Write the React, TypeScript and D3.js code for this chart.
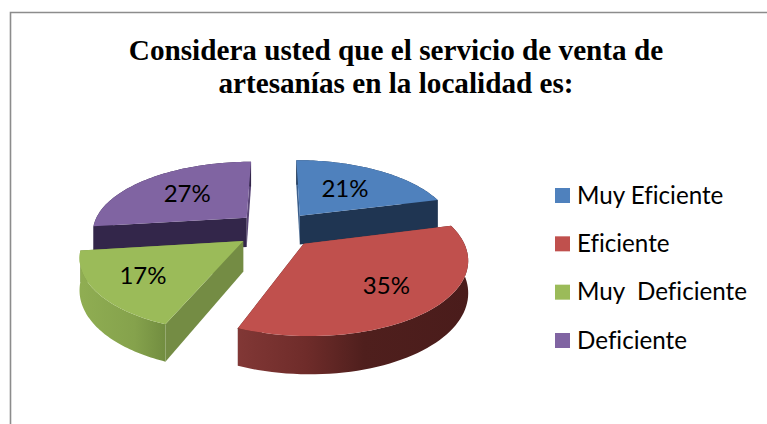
import React from "react";
import * as d3 from "d3";

const categories = ["Muy Eficiente", "Eficiente", "Muy  Deficiente", "Deficiente"];
const values = [21, 35, 17, 27];
const titleLines = ["Considera usted que el servicio de venta de", "artesanías en la localidad es:"];
const topColors = ["#4f81bd", "#c0504d", "#9bbb59", "#8064a2"];
const frontWall = ["#1f3552", "#4d1f1d", "#748c44", "#33264a"];
const paintOrder = [3, 0, 2, 1];
const labelRadii = [0.55, 0.68, 0.71, 0.58];

const W = 767, H = 424;
const cx = 276, cy = 229.5, rx = 155, ry = 70, persp = 0.18, explode = 0.26, depth = 30;

type P = [number, number];
const proj = (X: number, Y: number, z = 0): P => {
  const s = 1 / (1 + persp * Y);
  return [cx + rx * X * s, cy - ry * Y * s + z * s];
};

const pie = d3.pie<number>().sort(null).startAngle(0).endAngle(2 * Math.PI);
const arcs = pie(values);
const line = d3.line<P>();

function geometry(i: number) {
  const a = arcs[i];
  const mid = (a.startAngle + a.endAngle) / 2;
  const ox = explode * Math.sin(mid), oy = explode * Math.cos(mid);
  const pt = (ang: number, r = 1, z = 0) =>
    proj(ox + r * Math.sin(ang), oy + r * Math.cos(ang), z);
  const steps = d3.range(0, 61).map((k) => a.startAngle + ((a.endAngle - a.startAngle) * k) / 60);
  const rimTop = steps.map((t) => pt(t));
  const rimBottom = steps.map((t) => pt(t, 1, depth)).reverse();
  const apex = pt(0, 0);
  const apexLow = pt(0, 0, depth);
  return {
    top: line([apex, ...rimTop])! + "Z",
    wall: line([...rimTop, ...rimBottom])! + "Z",
    startFace: line([apex, pt(a.startAngle), pt(a.startAngle, 1, depth), apexLow])! + "Z",
    endFace: line([apex, pt(a.endAngle), pt(a.endAngle, 1, depth), apexLow])! + "Z",
    label: pt(mid, labelRadii[i]),
  };
}

export default function App() {
  const legendY = d3.scalePoint<string>().domain(categories).range([195.5, 340.5]);
  return (
    <svg width={W} height={H} style={{ position: "absolute", left: 0, top: 0, background: "#fff" }}>
      <defs>
        <linearGradient id="wall0" gradientUnits="userSpaceOnUse" x1="300" x2="440" y1="0" y2="0">
          <stop offset="0" stopColor="#1f3552" />
          <stop offset="1" stopColor="#1f3552" />
        </linearGradient>
        <linearGradient id="wall1" gradientUnits="userSpaceOnUse" x1="235" x2="470" y1="0" y2="0">
          <stop offset="0" stopColor="#823836" />
          <stop offset="0.3" stopColor="#6f2c2a" />
          <stop offset="0.55" stopColor="#4f1f1d" />
          <stop offset="1" stopColor="#4a1c1b" />
        </linearGradient>
        <linearGradient id="wall2" gradientUnits="userSpaceOnUse" x1="82" x2="170" y1="0" y2="0">
          <stop offset="0" stopColor="#8fad52" />
          <stop offset="0.6" stopColor="#85a24c" />
          <stop offset="1" stopColor="#6f8a3e" />
        </linearGradient>
        <linearGradient id="wall3" gradientUnits="userSpaceOnUse" x1="90" x2="250" y1="0" y2="0">
          <stop offset="0" stopColor="#33264a" />
          <stop offset="1" stopColor="#33264a" />
        </linearGradient>
      </defs>
      <path d={`M${W},12.5H10.5V${H}`} fill="none" stroke="#8c8c8c" strokeWidth={1.6} />
      {titleLines.map((t, i) => (
        <text key={t} x={396} y={60 + i * 33} textAnchor="middle" fontFamily="'Liberation Serif'" fontWeight="bold" fontSize={29.2} fill="#000">
          {t}
        </text>
      ))}
      {paintOrder.map((i) => {
        const g = geometry(i);
        return (
          <g key={i}>
            <path d={g.endFace} fill={i === 3 ? "#5a4677" : frontWall[i]} />
            <path d={g.startFace} fill={i === 0 ? "#3b5f8c" : frontWall[i]} />
            <path d={g.wall} fill={`url(#wall${i})`} />
            <path d={g.top} fill={topColors[i]} />
          </g>
        );
      })}
      {values.map((v, i) => {
        const [x, y] = geometry(i).label;
        return (
          <text key={i} x={x} y={y + 8} textAnchor="middle" fontFamily="Lato" fontSize={24} fill="#000">
            {v}%
          </text>
        );
      })}
      {categories.map((c, i) => {
        const y = legendY(c)!;
        return (
          <g key={c}>
            <rect x={555} y={y - 7.5} width={15} height={15} fill={topColors[i]} />
            <text x={577} y={y + 8} fontFamily="Lato" fontSize={24.2} fill="#000" style={{ whiteSpace: "pre", fontVariantLigatures: "none" }}>
              {c}
            </text>
          </g>
        );
      })}
    </svg>
  );
}
